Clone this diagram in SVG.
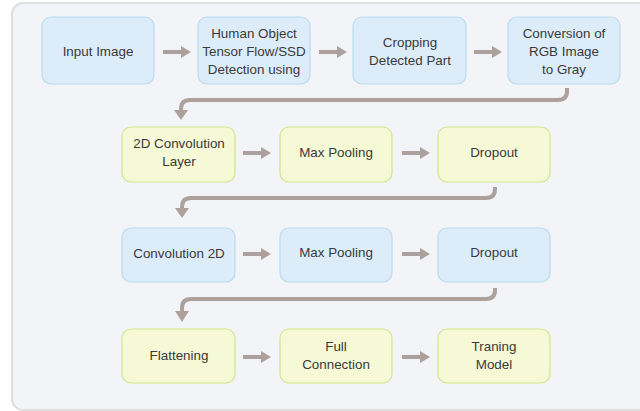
<svg xmlns="http://www.w3.org/2000/svg" width="640" height="411" viewBox="0 0 640 411">
<defs>
<style>
.blue rect{fill:#dcedf9;stroke:#b9dbef;stroke-width:1.2}
.green rect{fill:#f5f9d5;stroke:#d3e58e;stroke-width:1.2}
text{font-family:"Liberation Sans",Arial,sans-serif;font-size:13.4px;fill:#3a3a3a;text-anchor:middle}
.ln{fill:none;stroke:#ada19d;stroke-width:4}
.hd{fill:#ada19d}
</style>
</defs>
<rect x="0" y="0" width="640" height="411" fill="#ffffff"/>
<rect x="12" y="3" width="640" height="407" rx="11" fill="#f2f4f7" stroke="#d6d6d6" stroke-width="1.5"/>

<g id="n1" class="blue"><rect x="42" y="17" width="112" height="67" rx="9"/><text x="98" y="56">Input Image</text></g>
<g id="n2" class="blue"><rect x="198" y="17" width="112" height="67" rx="9"/><text x="254" y="38">Human Object</text><text x="254" y="56">Tensor Flow/SSD</text><text x="254" y="74">Detection using</text></g>
<g id="n3" class="blue"><rect x="353" y="17" width="113" height="67" rx="9"/><text x="410" y="47">Cropping</text><text x="410" y="65">Detected Part</text></g>
<g id="n4" class="blue"><rect x="508" y="17" width="112" height="67" rx="9"/><text x="564" y="38">Conversion of</text><text x="564" y="56">RGB Image</text><text x="564" y="74">to Gray</text></g>

<g id="n5" class="green"><rect x="122" y="127" width="113" height="55" rx="9"/><text x="179" y="148">2D Convolution</text><text x="179" y="166">Layer</text></g>
<g id="n6" class="green"><rect x="280" y="127" width="112" height="55" rx="9"/><text x="336" y="157">Max Pooling</text></g>
<g id="n7" class="green"><rect x="438" y="127" width="112" height="55" rx="9"/><text x="494" y="157">Dropout</text></g>

<g id="n8" class="blue"><rect x="122" y="228" width="113" height="54" rx="9"/><text x="179" y="258">Convolution 2D</text></g>
<g id="n9" class="blue"><rect x="280" y="228" width="112" height="54" rx="9"/><text x="336" y="257">Max Pooling</text></g>
<g id="n10" class="blue"><rect x="438" y="228" width="112" height="54" rx="9"/><text x="494" y="257">Dropout</text></g>

<g id="n11" class="green"><rect x="122" y="329" width="113" height="54" rx="9"/><text x="179" y="360">Flattening</text></g>
<g id="n12" class="green"><rect x="280" y="329" width="112" height="54" rx="9"/><text x="336" y="351">Full</text><text x="336" y="369">Connection</text></g>
<g id="n13" class="green"><rect x="438" y="329" width="112" height="54" rx="9"/><text x="494" y="351">Traning</text><text x="494" y="369">Model</text></g>

<g id="connectors">
<path class="ln" d="M163 52H182"/><path class="hd" d="M181 46L191 52L181 58Z"/>
<path class="ln" d="M319 52H338"/><path class="hd" d="M337 46L347 52L337 58Z"/>
<path class="ln" d="M474 52H493"/><path class="hd" d="M492 46L502 52L492 58Z"/>

<path class="ln" d="M243 153H262"/><path class="hd" d="M261 147L271 153L261 159Z"/>
<path class="ln" d="M402 153H421"/><path class="hd" d="M420 147L430 153L420 159Z"/>

<path class="ln" d="M243 254H262"/><path class="hd" d="M261 248L271 254L261 260Z"/>
<path class="ln" d="M402 254H421"/><path class="hd" d="M420 248L430 254L420 260Z"/>

<path class="ln" d="M243 357H262"/><path class="hd" d="M261 351L271 357L261 363Z"/>
<path class="ln" d="M402 357H421"/><path class="hd" d="M420 351L430 357L420 363Z"/>

<path class="ln" d="M567 88V91Q567 100 558 100H190Q181 100 181 109V111"/><path class="hd" d="M174 110L188 110L181 120Z"/>
<path class="ln" d="M495 187V189Q495 198 486 198H191Q182 198 182 207V209"/><path class="hd" d="M175 208L189 208L182 218Z"/>
<path class="ln" d="M495 288V290Q495 299 486 299H191Q182 299 182 308V312"/><path class="hd" d="M175 311L189 311L182 322Z"/>
</g>
</svg>
